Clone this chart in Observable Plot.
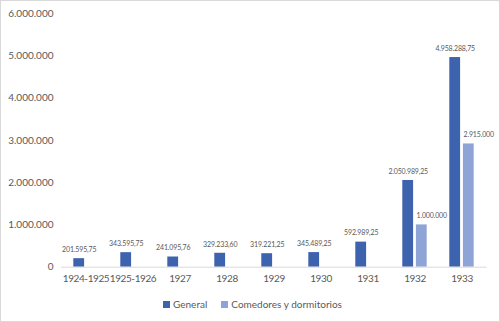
<!DOCTYPE html>
<html>
<head>
<meta charset="utf-8">
<script src="https://cdn.jsdelivr.net/npm/d3@7"></script>
<script src="https://cdn.jsdelivr.net/npm/@observablehq/plot@0.6"></script>
<style>
  html, body { margin: 0; padding: 0; background: #fff; }
  #frame { position: relative; width: 500px; height: 322px; box-sizing: border-box; border: 1px solid #d9d9d9; overflow: hidden; font-family: Lato, "Open Sans", sans-serif; }
  #legend { position: absolute; top: 297px; left: 0; width: 498px; display: flex; justify-content: center; gap: 14px; font-size: 10px; color: #595959; padding-left: 5px; box-sizing: border-box; }
  #legend .item { display: flex; align-items: center; gap: 3px; }
  #legend .sw { width: 7px; height: 7px; display: inline-block; }
  #chart g[aria-label="x-axis tick label"] text { letter-spacing: -0.4px; }
  #chart g.vlabel text { letter-spacing: -0.15px; }
</style>
</head>
<body>
<div id="frame"><div id="chart"></div><div id="legend"></div></div>
<script>
const categories = ["1924-1925", "1925-1926", "1927", "1928", "1929", "1930", "1931", "1932", "1933"];
const general = [201595.75, 343595.75, 241095.76, 329233.60, 319221.25, 345489.25, 592989.25, 2050989.25, 4958288.75];
const comedores = [null, null, null, null, null, null, null, 1000000, 2915000];
const seriesNames = ["General", "Comedores y dormitorios"];
const seriesColors = ["#3d62ae", "#8fa4d6"];
const yTicks = [0, 1000000, 2000000, 3000000, 4000000, 5000000, 6000000];

const loc = d3.formatLocale({decimal: ",", thousands: ".", grouping: [3], currency: ["", ""]});
const fmtInt = loc.format(",.0f");
const fmtDec = loc.format(",.2f");

const genData = categories.map((c, i) => ({cat: c, value: general[i]}));
const comData = categories.map((c, i) => ({cat: c, value: comedores[i]})).filter(d => d.value != null);

const barInset = 18.1;
const off = 6.8;

const chart = Plot.plot({
  width: 498,
  height: 290,
  marginLeft: 60,
  marginRight: 12.4,
  marginTop: 12,
  marginBottom: 24.3,
  style: {fontFamily: "Lato, 'Open Sans', sans-serif", fontSize: "10px", color: "#595959", background: "#fff"},
  x: {domain: categories, padding: 0, label: null},
  y: {domain: [0, 6000000], label: null},
  marks: [
    Plot.axisY({ticks: yTicks, tickSize: 0, tickPadding: 8, tickFormat: fmtInt, fill: "#595959"}),
    Plot.axisX({tickSize: 0, tickPadding: 8, fill: "#595959", fontSize: 10}),
    Plot.barY(genData, {x: "cat", y: "value", fill: seriesColors[0], dx: -off, insetLeft: barInset, insetRight: barInset}),
    Plot.barY(comData, {x: "cat", y: "value", fill: seriesColors[1], dx: off, insetLeft: barInset, insetRight: barInset}),
    Plot.ruleY([0], {stroke: "#d9d9d9", strokeWidth: 1}),
    Plot.text(genData, {x: "cat", y: "value", text: d => fmtDec(d.value), dx: -off, dy: -9, fontSize: 7, fill: "#595959", className: "vlabel"}),
    Plot.text(comData, {x: "cat", y: "value", text: d => fmtInt(d.value), dx: 1.5, dy: -9, textAnchor: "start", fontSize: 7, fill: "#595959", className: "vlabel"})
  ]
});
document.getElementById("chart").appendChild(chart);

const legend = document.getElementById("legend");
seriesNames.forEach((name, i) => {
  const item = document.createElement("span");
  item.className = "item";
  const sw = document.createElement("span");
  sw.className = "sw";
  sw.style.background = seriesColors[i];
  const t = document.createElement("span");
  t.textContent = name;
  item.appendChild(sw);
  item.appendChild(t);
  legend.appendChild(item);
});
</script>
</body>
</html>
